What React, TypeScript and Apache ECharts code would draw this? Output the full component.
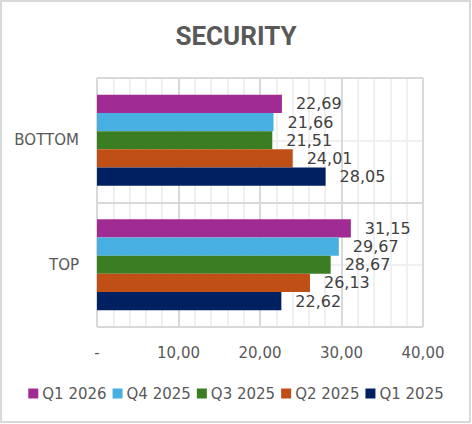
import React, { useEffect, useRef } from "react";
import * as echarts from "echarts";

const categories = ["TOP", "BOTTOM"];
const seriesNames = ["Q1 2026", "Q4 2025", "Q3 2025", "Q2 2025", "Q1 2025"];
const q1_2026 = [31.15, 22.69];
const q4_2025 = [29.67, 21.66];
const q3_2025 = [28.67, 21.51];
const q2_2025 = [26.13, 24.01];
const q1_2025 = [22.62, 28.05];
const seriesValues = [q1_2026, q4_2025, q3_2025, q2_2025, q1_2025];
const seriesColors = ["#A02B93", "#47B0E0", "#3B7D23", "#C04F15", "#002060"];
const xMin = 0;
const xMax = 40;
const xInterval = 10;

const fmt = (v: number) => (v === 0 ? "-" : v.toFixed(2).replace(".", ","));

export default function App() {
  const ref = useRef<HTMLDivElement>(null);
  useEffect(() => {
    document.body.style.margin = "0";
    if (!ref.current) return;
    const chart = echarts.init(ref.current, null, { renderer: "svg" });
    const font = "DejaVu Sans";
    chart.setOption({
      animation: false,
      backgroundColor: "#FFFFFF",
      title: {
        text: "SECURITY",
        left: "center",
        top: 18,
        textStyle: {
          fontFamily: "Roboto",
          fontWeight: "bold",
          fontSize: 26,
          lineHeight: 26,
          color: "#595959",
        },
      },
      graphic: [
        {
          type: "rect",
          shape: { x: 1, y: 1, width: 469, height: 421 },
          style: { fill: "none", stroke: "#D9D9D9", lineWidth: 2 },
          silent: true,
        },
      ],
      legend: {
        data: seriesNames,
        bottom: 18,
        left: "center",
        padding: [5, 5, 5, 13],
        itemWidth: 10,
        itemHeight: 10,
        itemGap: 6,
        icon: "rect",
        textStyle: { fontFamily: font, fontSize: 15, color: "#595959", padding: [0, 0, 0, -1] },
      },
      grid: { left: 97, right: 49, top: 78, bottom: 97, containLabel: false },
      xAxis: {
        type: "value",
        min: xMin,
        max: xMax,
        interval: xInterval,
        axisLine: { show: false },
        axisTick: { show: false },
        axisLabel: {
          formatter: fmt,
          fontFamily: font,
          fontSize: 15,
          color: "#595959",
          margin: 18,
        },
        splitLine: { show: true, lineStyle: { color: "#D9D9D9", width: 2 } },
        minorTick: { show: false, splitNumber: 5 },
        minorSplitLine: { show: true, lineStyle: { color: "#F0F0F0", width: 2 } },
      },
      yAxis: [
        {
          type: "category",
          data: categories,
          axisLine: { show: false },
          axisTick: { show: false },
          axisLabel: { fontFamily: font, fontSize: 15, color: "#595959", margin: 18 },
          splitLine: { show: true, lineStyle: { color: "#D9D9D9", width: 2 } },
          z: 1,
        },
        {
          type: "value",
          min: 0,
          max: 4,
          interval: 1,
          position: "right",
          axisLine: { show: false },
          axisTick: { show: false },
          axisLabel: { show: false },
          splitLine: { show: true, lineStyle: { color: ["#D9D9D9", "#F0F0F0"], width: 2 } },
        },
      ],
      series: seriesNames.map((name, i) => ({
        name,
        type: "bar",
        yAxisIndex: 0,
        data: seriesValues[i],
        itemStyle: { color: seriesColors[i] },
        barGap: "0%",
        barCategoryGap: "27%",
        label: {
          show: true,
          position: "right",
          distance: 14,
          formatter: (p: any) => fmt(p.value),
          fontFamily: font,
          fontSize: 16,
          color: "#404040",
        },
        z: 3,
      })),
    });
    return () => chart.dispose();
  }, []);
  return <div ref={ref} style={{ width: 472, height: 424 }} />;
}
